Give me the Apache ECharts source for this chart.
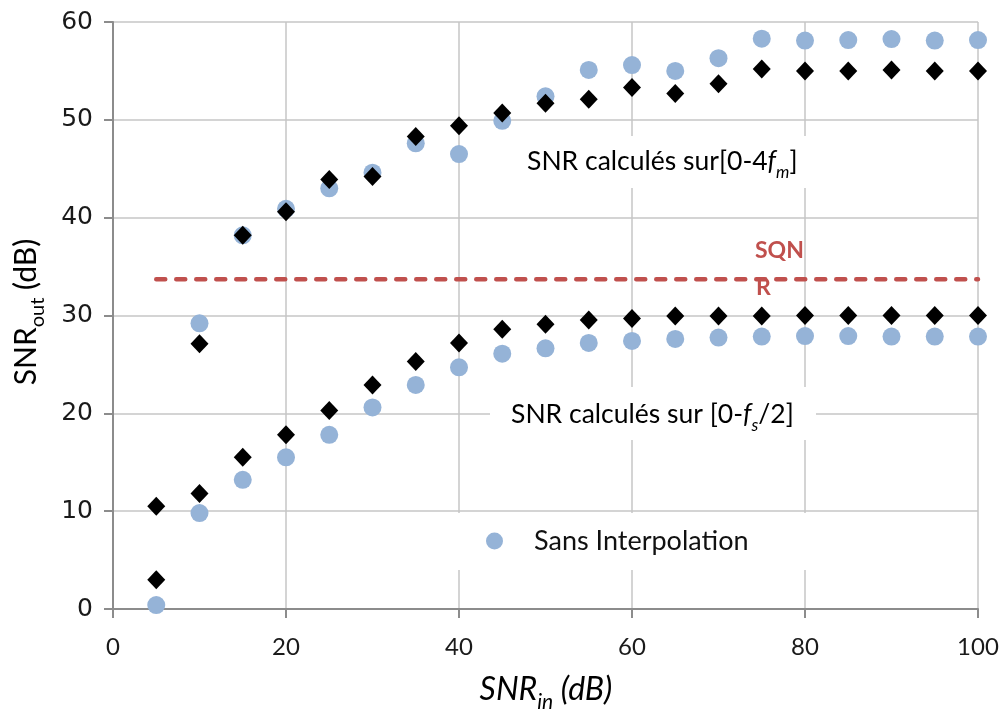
<!DOCTYPE html>
<html>
<head>
<meta charset="utf-8">
<title>SNR out vs SNR in</title>
<script src="https://cdn.jsdelivr.net/npm/echarts@6/dist/echarts.min.js"></script>
<style>
  html, body { margin: 0; padding: 0; background: #fff; }
  #main { width: 1003px; height: 717px; }
</style>
</head>
<body>
<div id="main"></div>
<script>
  // SNR d'entrée (axe x)
  var snrIn = [5, 10, 15, 20, 25, 30, 35, 40, 45, 50, 55, 60, 65, 70, 75, 80, 85, 90, 95, 100];

  // SNR calculés sur [0-4fm]
  var hautSansInterp = [0.4, 29.2, 38.2, 40.9, 43.0, 44.6, 47.6, 46.5, 49.9, 52.4, 55.1, 55.6, 55.0, 56.3, 58.3, 58.1, 58.15, 58.25, 58.1, 58.15];
  var hautAvecInterp = [3.0, 27.1, 38.2, 40.6, 43.9, 44.2, 48.3, 49.4, 50.7, 51.7, 52.1, 53.3, 52.7, 53.7, 55.2, 55.0, 55.0, 55.1, 55.0, 55.0];

  // SNR calculés sur [0-fs/2]
  var basSansInterp = [null, 9.8, 13.2, 15.5, 17.8, 20.6, 22.9, 24.7, 26.1, 26.65, 27.2, 27.4, 27.6, 27.75, 27.85, 27.9, 27.9, 27.85, 27.85, 27.85];
  var basAvecInterp = [10.5, 11.8, 15.5, 17.8, 20.3, 22.9, 25.3, 27.2, 28.6, 29.1, 29.55, 29.7, 29.95, 29.95, 29.95, 30.0, 30.0, 30.0, 30.0, 30.0];

  // niveau SQNR (ligne pointillée)
  var sqnrX = [5, 100];
  var sqnrY = [33.7, 33.7];

  function paires(xs, ys) {
    var out = [];
    for (var i = 0; i < xs.length; i++) {
      if (ys[i] != null) out.push([xs[i], ys[i]]);
    }
    return out;
  }

  var bleu = '#95B3D7', rouge = '#C0504D';
  var police = 'Lato, "Open Sans", sans-serif';

  var chart = echarts.init(document.getElementById('main'));

  var option = {
    backgroundColor: '#fff',
    animation: false,
    grid: {
      left: 113, right: 25, top: 22, bottom: 108,
      containLabel: false,
      outerBoundsMode: 'none'
    },
    xAxis: {
      type: 'value',
      min: 0, max: 100, interval: 20,
      axisLine: { show: true, onZero: false, lineStyle: { color: '#8C8C8C', width: 2 } },
      axisTick: { show: true, length: 9, lineStyle: { color: '#8C8C8C', width: 2 } },
      axisLabel: { margin: 26, color: '#1a1a1a', fontFamily: police, fontSize: 24 },
      splitLine: { show: true, lineStyle: { color: '#C6C6C6', width: 1.5 } }
    },
    yAxis: {
      type: 'value',
      min: 0, max: 60, interval: 10,
      axisLine: { show: true, onZero: false, lineStyle: { color: '#8C8C8C', width: 2 } },
      axisTick: { show: true, length: 9, lineStyle: { color: '#8C8C8C', width: 2 } },
      axisLabel: { margin: 20, color: '#1a1a1a', fontFamily: '"DejaVu Sans", sans-serif', fontSize: 25 },
      splitLine: { show: true, lineStyle: { color: '#C6C6C6', width: 1.5 } }
    },
    legend: {
      data: ['Sans Interpolation'],
      left: 486, top: 526,
      padding: 0,
      icon: 'circle',
      itemWidth: 17, itemHeight: 17,
      textStyle: { fontFamily: police, fontSize: 27, color: '#111', lineHeight: 30, padding: [0, 0, 0, 26] }
    },
    graphic: [
      { type: 'rect', z: 1, shape: { x: 515, y: 136, width: 297, height: 52 }, style: { fill: '#fff' } },
      { type: 'rect', z: 1, shape: { x: 490, y: 387, width: 326, height: 53 }, style: { fill: '#fff' } },
      { type: 'rect', z: 1, shape: { x: 450, y: 513, width: 362, height: 57 }, style: { fill: '#fff' } },
      {
        type: 'text', z: 5, x: 527, y: 164,
        style: {
          text: '{n|SNR calculés sur[0-4}{i|f}{s|m}{n|]}',
          verticalAlign: 'middle',
          rich: {
            n: { fontFamily: police, fontSize: 26.5, color: '#111', lineHeight: 32, verticalAlign: 'top' },
            i: { fontFamily: police, fontSize: 26.5, fontStyle: 'italic', color: '#111', lineHeight: 32, verticalAlign: 'top' },
            s: { fontFamily: police, fontSize: 17, fontStyle: 'italic', color: '#111', lineHeight: 17, padding: [16, 0, 0, 0], verticalAlign: 'top' }
          }
        }
      },
      {
        type: 'text', z: 5, x: 511, y: 417,
        style: {
          text: '{n|SNR calculés sur [0-}{i|f}{s|s}{n|/2]}',
          verticalAlign: 'middle',
          rich: {
            n: { fontFamily: police, fontSize: 26.5, color: '#111', lineHeight: 32, verticalAlign: 'top' },
            i: { fontFamily: police, fontSize: 26.5, fontStyle: 'italic', color: '#111', lineHeight: 32, verticalAlign: 'top' },
            s: { fontFamily: police, fontSize: 17, fontStyle: 'italic', color: '#111', lineHeight: 17, padding: [16, 0, 0, 0], verticalAlign: 'top' }
          }
        }
      },
      {
        type: 'text', z: 5, x: 755, y: 251,
        style: { text: 'SQN', fontFamily: police, fontSize: 23, fontWeight: 'bold', fill: rouge, verticalAlign: 'middle' }
      },
      {
        type: 'text', z: 5, x: 756, y: 288,
        style: { text: 'R', fontFamily: police, fontSize: 23, fontWeight: 'bold', fill: rouge, verticalAlign: 'middle' }
      },
      {
        type: 'text', z: 5, x: 546, y: 692,
        style: {
          text: '{n|SNR}{s|in}{n| (dB)}',
          align: 'center', verticalAlign: 'middle',
          rich: {
            n: { fontFamily: police, fontSize: 32, fontStyle: 'italic', color: '#111', lineHeight: 36, verticalAlign: 'top' },
            s: { fontFamily: police, fontSize: 21, fontStyle: 'italic', color: '#111', lineHeight: 21, padding: [18, 0, 0, 0], verticalAlign: 'top' }
          }
        }
      },
      {
        type: 'text', z: 5, x: 28, y: 312, rotation: Math.PI / 2,
        style: {
          text: '{n|SNR}{s|out}{n| (dB)}',
          align: 'center', verticalAlign: 'middle',
          rich: {
            n: { fontFamily: police, fontSize: 30, color: '#111', lineHeight: 34, verticalAlign: 'top' },
            s: { fontFamily: police, fontSize: 20, color: '#111', lineHeight: 20, padding: [17, 0, 0, 0], verticalAlign: 'top' }
          }
        }
      }
    ],
    series: [
      {
        name: 'SQNR', type: 'line', z: 2,
        data: paires(sqnrX, sqnrY),
        symbol: 'none',
        lineStyle: { color: rouge, width: 4.5, type: [9, 11], cap: 'round' }
      },
      {
        name: 'Sans Interpolation', type: 'scatter', z: 3,
        data: paires(snrIn, hautSansInterp),
        symbol: 'circle', symbolSize: 18,
        itemStyle: { color: bleu, opacity: 1 }
      },
      {
        name: 'Sans Interpolation', type: 'scatter', z: 3,
        data: paires(snrIn, basSansInterp),
        symbol: 'circle', symbolSize: 18,
        itemStyle: { color: bleu, opacity: 1 }
      },
      {
        name: 'Avec Interpolation', type: 'scatter', z: 4,
        data: paires(snrIn, hautAvecInterp),
        symbol: 'diamond', symbolSize: [18, 19],
        itemStyle: { color: '#000', opacity: 1 }
      },
      {
        name: 'Avec Interpolation', type: 'scatter', z: 4,
        data: paires(snrIn, basAvecInterp),
        symbol: 'diamond', symbolSize: [18, 19],
        itemStyle: { color: '#000', opacity: 1 }
      }
    ]
  };

  chart.setOption(option);
</script>
</body>
</html>
